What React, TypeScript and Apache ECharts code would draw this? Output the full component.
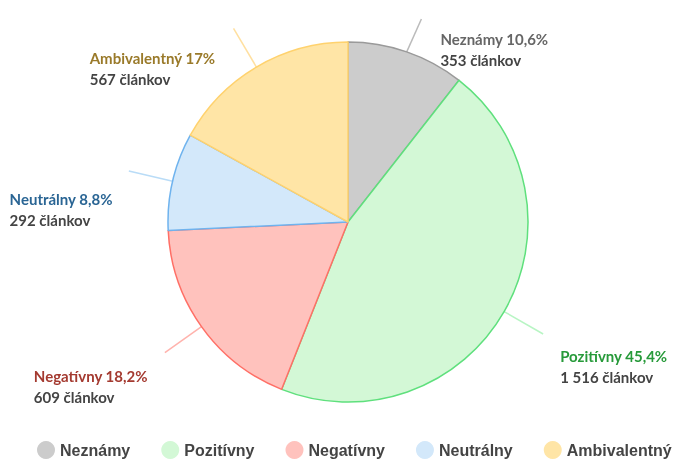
import React, { useEffect, useRef } from "react";
import * as echarts from "echarts";

const categories = ["Neznámy", "Pozitívny", "Negatívny", "Neutrálny", "Ambivalentný"];
const counts = [353, 1516, 609, 292, 567];
const percentLabels = ["10,6%", "45,4%", "18,2%", "8,8%", "17%"];
const countLabels = ["353", "1 516", "609", "292", "567"];

const fillColors = ["#cccccc", "#d3f8d6", "#ffc2bd", "#d3e8fa", "#ffe5a6"];
const borderColors = ["#9a9a9a", "#5fe07d", "#ff6f66", "#6fb3ee", "#ffd26e"];
const titleColors = ["#666666", "#279a3a", "#a43a30", "#2a6594", "#9a7a2a"];
const lineColors = ["#bbbbbb", "#b8f5c4", "#ffb3ad", "#b9dcf7", "#ffe0a0"];

// label nudges (px) away from the label-line end
const labelDx = [14, 12, -12, -11, -13];
const labelDy = [30, 32, 34, 38, 40];

export default function App() {
  const ref = useRef<HTMLDivElement>(null);
  useEffect(() => {
    if (!ref.current) return;
    const chart = echarts.init(ref.current, undefined, { renderer: "svg" });
    const data = categories.map((name, i) => ({
      name,
      value: counts[i],
      itemStyle: { color: fillColors[i], borderColor: borderColors[i], borderWidth: 1.5 },
      label: {
        rich: {
          t: { color: titleColors[i], fontFamily: "Lato", fontWeight: "bold", fontSize: 15, lineHeight: 21, align: "left" },
          c: { color: "#444444", fontFamily: "Lato", fontWeight: "bold", fontSize: 15, lineHeight: 21, align: "left" },
        },
      },
      labelLine: { lineStyle: { color: lineColors[i], width: 1.5 } },
    }));
    chart.setOption({
      animation: false,
      legend: {
        bottom: -5,
        left: 32,
        width: 642,
        icon: "circle",
        itemWidth: 18,
        itemHeight: 18,
        itemGap: 31,
        textStyle: { fontFamily: "Liberation Sans", fontWeight: "bold", fontSize: 16, color: "#444444" },
        data: categories.map((name, i) => ({ name, itemStyle: { color: fillColors[i], borderWidth: 0 } })),
      },
      series: [
        {
          type: "pie",
          center: [348, 222],
          radius: 180,
          startAngle: 90,
          clockwise: true,
          data,
          label: {
            position: "outside",
            formatter: (p: any) => `{t|${p.name} ${percentLabels[p.dataIndex]}}\n{c|${countLabels[p.dataIndex]} článkov}`,
          },
          labelLine: { show: true, length: 45, length2: 0, smooth: true },
          labelLayout: (p: any) => ({ dx: labelDx[p.dataIndex], dy: labelDy[p.dataIndex] }),
        },
      ],
    });
    return () => chart.dispose();
  }, []);
  return <div ref={ref} style={{ position: "fixed", left: 0, top: 0, width: 674, height: 459 }} />;
}
